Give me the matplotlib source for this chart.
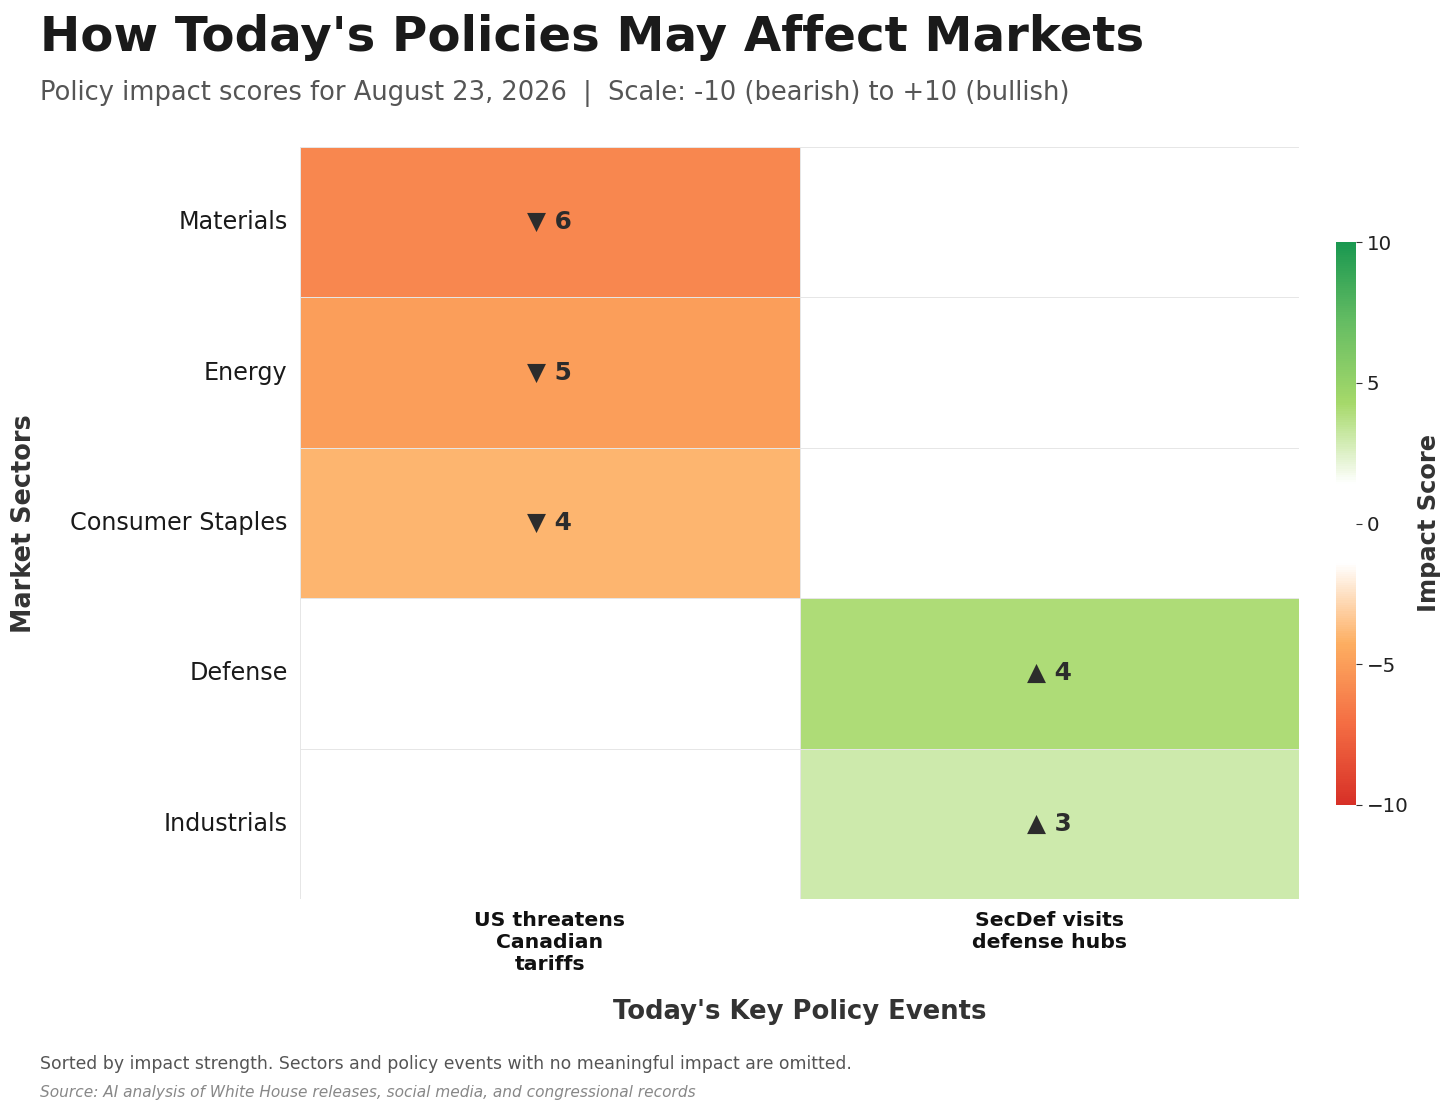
import numpy as np
import pandas as pd
import matplotlib
matplotlib.use("Agg")
import matplotlib.pyplot as plt
from matplotlib.colors import LinearSegmentedColormap
import seaborn as sns

plt.rcParams["font.family"] = ["DejaVu Sans"]

# ---- data ----
sectors = ["Materials", "Energy", "Consumer Staples", "Defense", "Industrials"]
events = ["US threatens\nCanadian\ntariffs", "SecDef visits\ndefense hubs"]
tariff_scores = [-6, -5, -4, 0, 0]
secdef_scores = [0, 0, 0, 4, 3]
cbar_ticks = [-10, -5, 0, 5, 10]

title = "How Today's Policies May Affect Markets"
subtitle = "Policy impact scores for August 23, 2026  |  Scale: -10 (bearish) to +10 (bullish)"
note = "Sorted by impact strength. Sectors and policy events with no meaningful impact are omitted."
source = "Source: AI analysis of White House releases, social media, and congressional records"

df = pd.DataFrame({events[0]: tariff_scores, events[1]: secdef_scores}, index=sectors)

cmap = LinearSegmentedColormap.from_list(
    "impact",
    ["#d73027", "#f46d43", "#fdae61", "#ffffff", "#ffffff", "#a6d96a", "#66bd63", "#1a9850"],
)

W, H = 1456, 1113
fig = plt.figure(figsize=(W / 100, H / 100), dpi=100)
fig.patch.set_facecolor("white")

ax = fig.add_axes([300 / W, 1 - 899 / H, 999 / W, 752 / H])
cax = fig.add_axes([1336 / W, 1 - 805 / H, 20 / W, 563 / H])

sns.heatmap(
    df, ax=ax, cmap=cmap, vmin=-10, vmax=10, center=None,
    linewidths=0.7, linecolor="#e6e6e6", cbar_ax=cax, annot=False,
)

# annotations
vals = df.values
for i in range(vals.shape[0]):
    for j in range(vals.shape[1]):
        v = vals[i, j]
        if v == 0:
            continue
        sym = "\u25B2" if v > 0 else "\u25BC"
        ax.text(j + 0.5, i + 0.5, f"{sym} {abs(v)}", ha="center", va="center",
                fontsize=17.8, fontweight="bold", color="#2c2c2c")

ax.set_xlabel("")
ax.set_ylabel("")
ax.set_yticklabels(sectors, rotation=0, fontsize=17.2, color="#1a1a1a")
ax.set_xticklabels(events, rotation=0, fontsize=14.7, fontweight="bold", color="#111111",
                   multialignment="center")
ax.tick_params(axis="both", length=0, pad=9)

# colorbar
cbar = ax.collections[0].colorbar
cbar.outline.set_visible(False)
cbar.set_ticks(cbar_ticks)
cbar.ax.tick_params(labelsize=14.3, color="#333333", length=4, width=0.8, labelcolor="#222222")
cbar.set_label("Impact Score", fontsize=17.4, fontweight="bold", color="#333333", labelpad=6)

# axis labels as figure text
fig.text(24 / W, 1 - 523.5 / H, "Market Sectors", rotation=90, ha="center", va="center",
         fontsize=18.4, fontweight="bold", color="#333333")
fig.text(799.5 / W, 1 - 1012 / H, "Today's Key Policy Events", ha="center", va="center",
         fontsize=18.6, fontweight="bold", color="#333333")

# titles
fig.text(40 / W, 1 - 51 / H, title, ha="left", va="baseline",
         fontsize=34.75, fontweight="bold", color="#1a1a1a")
fig.text(40 / W, 1 - 100 / H, subtitle, ha="left", va="baseline",
         fontsize=18.55, color="#555555")

# footer
fig.text(40 / W, 1 - 1069 / H, note, ha="left", va="baseline", fontsize=12.45, color="#555555")
fig.text(40 / W, 1 - 1097 / H, source, ha="left", va="baseline", fontsize=11.1,
         color="#888888", style="italic")

fig.savefig("out.png", dpi=100, facecolor="white")
